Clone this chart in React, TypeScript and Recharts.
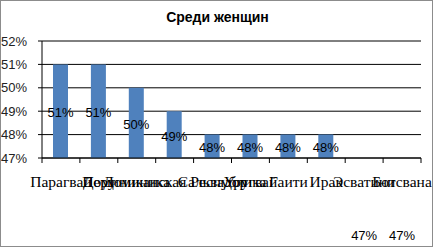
import { BarChart, Bar, XAxis, YAxis, CartesianGrid, LabelList } from "recharts";

const countries = [
  "Парагвай",
  "Перу",
  "Доминика",
  "Доминиканская Республика",
  "Сальвадор",
  "Уругвай",
  "Гаити",
  "Ирак",
  "Эсватини",
  "Ботсвана",
];
const shares = [51, 51, 50, 49, 48, 48, 48, 48, 47, 47];
const yTicks = [47, 48, 49, 50, 51, 52];
const Y_MIN = yTicks[0];

const data = countries.map((name, i) => ({ name, value: shares[i] }));

const W = 433;
const H = 247;
const LEFT = 42;
const RIGHT = 12;
const TOP = 41;
const X_AXIS_H = 89;
const STEP = (W - LEFT - RIGHT) / countries.length;
const SANS = "'Liberation Sans', Arial, sans-serif";

// category label plus the tick marks that Excel puts between categories
const CategoryTick = (props: any) => {
  const { x, y, payload, index } = props;
  const v = shares[index];
  return (
    <g>
      <line x1={x - STEP / 2} y1={y} x2={x - STEP / 2} y2={y + 5} stroke="#000" />
      {index === countries.length - 1 && (
        <line x1={x + STEP / 2} y1={y} x2={x + STEP / 2} y2={y + 5} stroke="#000" />
      )}
      <text
        x={x}
        y={y + 29}
        textAnchor="middle"
        fontFamily="'Liberation Serif', serif"
        fontSize={15.5}
        fill="#000"
      >
        {payload.value}
      </text>
      {/* bars sitting on the axis floor: Excel drops their label to the bottom */}
      {v <= Y_MIN && (
        <text x={x} y={H - 7} textAnchor="middle" fontFamily={SANS} fontSize={13} fill="#000">
          {v}%
        </text>
      )}
    </g>
  );
};

const ValueLabel = (props: any) => {
  const { x, y, width, height, value } = props;
  if (value <= Y_MIN) return null;
  return (
    <text
      x={x + width / 2}
      y={y + height / 2 + 6}
      textAnchor="middle"
      fontFamily={SANS}
      fontSize={13}
      fill="#000"
    >
      {value}%
    </text>
  );
};

export default function App() {
  return (
    <div
      style={{
        position: "absolute",
        left: 0,
        top: 0,
        width: W,
        height: H,
        boxSizing: "border-box",
        border: "1px solid #8c8c8c",
        background: "#fff",
        overflow: "hidden",
      }}
    >
      <div
        style={{
          position: "absolute",
          top: 8,
          left: 0,
          width: W,
          textAlign: "center",
          fontFamily: SANS,
          fontWeight: "bold",
          fontSize: 14,
          color: "#000",
        }}
      >
        Среди женщин
      </div>
      <div style={{ position: "absolute", left: -1, top: -1 }}>
        <BarChart
          width={W}
          height={H}
          data={data}
          margin={{ top: TOP, right: RIGHT, bottom: 0, left: 0 }}
          barCategoryGap={0}
        >
          <CartesianGrid vertical={false} stroke="#000" strokeOpacity={1} />
          <XAxis
            dataKey="name"
            height={X_AXIS_H}
            interval={0}
            tickSize={0}
            tickMargin={0}
            tickLine={false}
            axisLine={{ stroke: "#000" }}
            tick={<CategoryTick />}
          />
          <YAxis
            width={LEFT}
            domain={[Y_MIN, 52]}
            ticks={yTicks}
            allowDataOverflow
            tickSize={4}
            tickMargin={11}
            tickLine={{ stroke: "#000" }}
            axisLine={{ stroke: "#000" }}
            tickFormatter={(v: number) => `${v}%`}
            tick={{ fill: "#222", fontSize: 13, fontFamily: SANS }}
          />
          <Bar dataKey="value" fill="#4F81BD" barSize={15} isAnimationActive={false}>
            <LabelList dataKey="value" content={<ValueLabel />} />
          </Bar>
        </BarChart>
      </div>
    </div>
  );
}
